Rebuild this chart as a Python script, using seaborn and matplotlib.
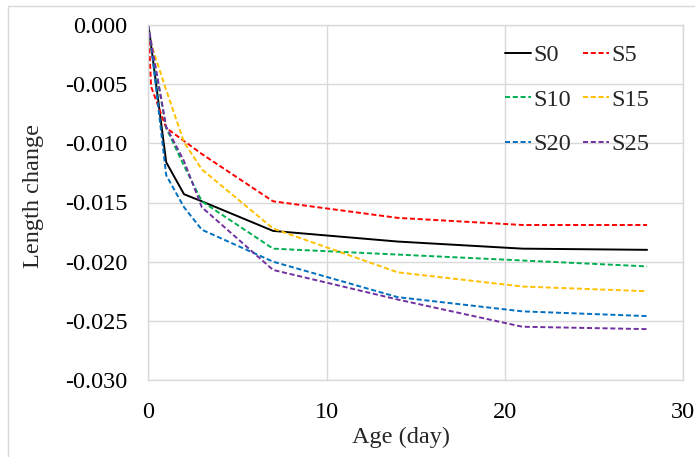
import numpy as np
import pandas as pd
import matplotlib
matplotlib.use("Agg")
import matplotlib.pyplot as plt
import seaborn as sns
from matplotlib.patches import Rectangle

# ---- data ----
ages = [0, 0.15, 1, 2, 3, 7, 14, 21, 28]
s0 = [0, -0.0017, -0.0116, -0.0143, -0.0149, -0.0174, -0.0183, -0.0189, -0.0190]
s5 = [0, -0.0052, -0.0087, -0.0098, -0.0109, -0.0149, -0.0163, -0.0169, -0.0169]
s10 = [0, -0.0016, -0.0087, -0.0119, -0.0149, -0.0189, -0.0194, -0.0199, -0.0204]
s15 = [0, -0.0016, -0.0055, -0.0099, -0.0122, -0.0172, -0.0209, -0.0221, -0.0225]
s20 = [0, -0.0017, -0.0127, -0.0154, -0.0173, -0.0200, -0.0230, -0.0242, -0.0246]
s25 = [0, -0.0014, -0.0086, -0.0115, -0.0154, -0.0207, -0.0232, -0.0255, -0.0257]
series_names = ["S0", "S5", "S10", "S15", "S20", "S25"]
series_values = [s0, s5, s10, s15, s20, s25]
x_ticks = [0, 10, 20, 30]
y_ticks = [0.000, -0.005, -0.010, -0.015, -0.020, -0.025, -0.030]
y_tick_labels = ["0.000", "-0.005", "-0.010", "-0.015", "-0.020", "-0.025", "-0.030"]

colors = {"S0": "#000000", "S5": "#FF0000", "S10": "#00B050",
          "S15": "#FFC000", "S20": "#0070C0", "S25": "#7030A0"}
dashes = {"S0": "", "S5": (2.6, 1.4), "S10": (2.6, 1.4), "S15": (2.6, 1.4),
          "S20": (2.6, 1.4), "S25": (2.6, 1.4)}

rows = []
for name, vals in zip(series_names, series_values):
    for a, v in zip(ages, vals):
        rows.append({"Age": a, "Length change": v, "Series": name})
df = pd.DataFrame(rows)

sns.set_theme(style="white")
plt.rcParams["font.family"] = ["Liberation Serif", "DejaVu Serif"]
plt.rcParams["axes.unicode_minus"] = False

FS = 17.5
fig = plt.figure(figsize=(6.95, 4.57), dpi=100)
ax = fig.add_axes([148.4 / 695, 1 - 380 / 457, (682.7 - 148.4) / 695, (380 - 25) / 457])

sns.lineplot(data=df, x="Age", y="Length change", hue="Series", style="Series",
             hue_order=series_names, style_order=series_names,
             palette=colors, dashes=dashes, linewidth=1.4, ax=ax,
             sort=False, estimator=None)

ax.set_xlim(0, 30)
ax.set_ylim(-0.030, 0.0)
ax.set_xticks(x_ticks)
ax.set_xticklabels([str(t) for t in x_ticks])
ax.set_yticks(y_ticks)
ax.set_yticklabels(y_tick_labels)
ax.grid(True, color="#d9d9d9", linewidth=1.0)
ax.set_axisbelow(True)
for sp in ax.spines.values():
    sp.set_color("#d9d9d9")
    sp.set_linewidth(1.0)
ax.tick_params(axis="both", length=0, labelsize=FS, colors="black")
ax.tick_params(axis="y", pad=15)
ax.tick_params(axis="x", pad=16)

ax.set_xlabel("Age (day)", fontsize=FS)
ax.set_ylabel("Length change", fontsize=FS)
ax.xaxis.set_label_coords(0.473, -0.133)
ax.yaxis.set_label_coords(-0.195, 0.518)

handles, labels = ax.get_legend_handles_labels()
hmap = dict(zip(labels, handles))
order = ["S0", "S10", "S20", "S5", "S15", "S25"]
ax.legend([hmap[k] for k in order], order, ncol=2, frameon=False,
          loc="upper left", bbox_to_anchor=(0.668, 0.946), borderpad=0,
          fontsize=FS, handlelength=1.05, handletextpad=0.1,
          columnspacing=0.5, labelspacing=0.93, borderaxespad=0)

fig.patches.append(Rectangle((8 / 695, -0.2), 1.5, 1 - 6 / 457 + 0.2, fill=False,
                             edgecolor="#d9d9d9", linewidth=1.0,
                             transform=fig.transFigure, figure=fig))

fig.savefig("out.png", dpi=100)
